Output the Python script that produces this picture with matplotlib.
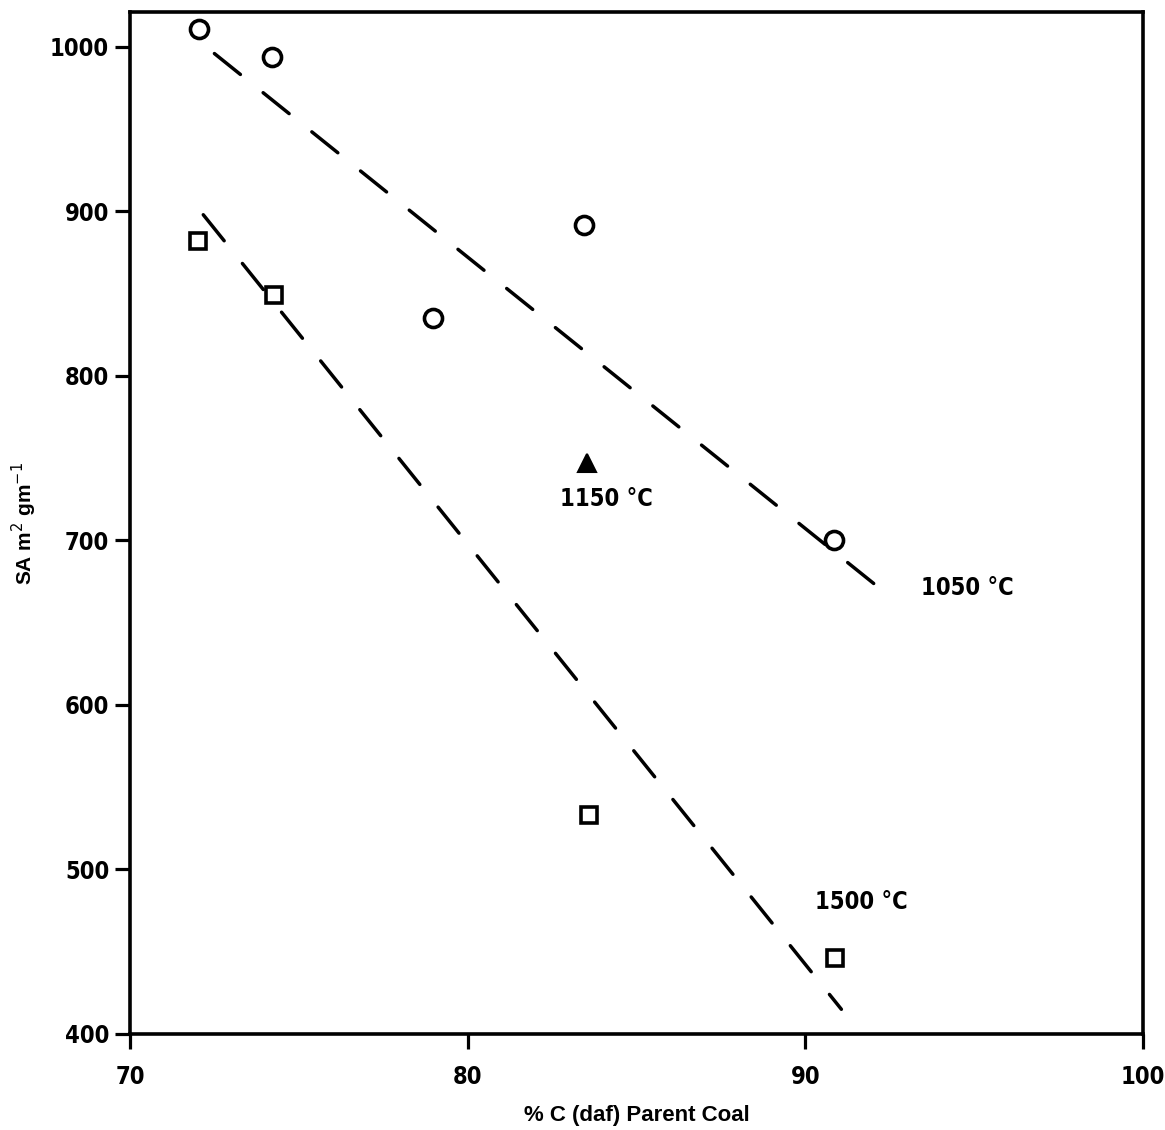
import matplotlib
matplotlib.use("Agg")
import matplotlib.pyplot as plt
from matplotlib import font_manager as fm

# ── Données ───────────────────────────────────────────────────────
c1050_x = [72.05, 74.2, 78.96, 83.44, 90.86]
c1050_y = [1011, 994, 835, 892, 700]

c1500_x = [72.0, 74.27, 83.59, 90.89]
c1500_y = [882, 849, 533, 446]

c1150_x = [83.53]
c1150_y = [747]

# droites de tendance (tracées à la main, extrémités)
fit1050_x = [72.5, 92.2]
fit1050_y = [996, 671]
fit1500_x = [72.17, 91.07]
fit1500_y = [898, 415]

x_ticks = [70, 80, 90, 100]
y_ticks = [400, 500, 600, 700, 800, 900, 1000]

# police étroite grasse si disponible
def _poids(w):
    return w if isinstance(w, int) else {"bold": 700, "semibold": 600, "demibold": 600,
                                         "heavy": 800, "black": 900}.get(w, 400)

etroites = [f for f in fm.fontManager.ttflist
            if ("Narrow" in f.name or "Condensed" in f.name or f.stretch in ("condensed", "semi-condensed"))
            and "Mono" not in f.name]
grasses = [f for f in etroites if _poids(f.weight) >= 600]
if grasses:
    NARROW, SZ = [grasses[0].name, "DejaVu Sans"], 17
elif etroites:
    NARROW, SZ = [etroites[0].name, "DejaVu Sans"], 18
else:
    NARROW, SZ = ["Liberation Sans", "DejaVu Sans"], 16
STRETCH = grasses[0].stretch if grasses else "normal"

plt.rcParams["lines.scale_dashes"] = False

fig = plt.figure(figsize=(11.65, 11.3), dpi=100)
ax = fig.add_axes([0.1116, 0.085, 0.8694, 0.904])

dash = (0, (24, 21))
ax.plot(fit1050_x, fit1050_y, color="black", lw=2.5, linestyle=dash, dash_capstyle="round")
ax.plot(fit1500_x, fit1500_y, color="black", lw=2.5, linestyle=dash, dash_capstyle="round")

ax.plot(c1050_x, c1050_y, "o", ms=13, mfc="white", mec="black", mew=2.6, ls="none")
ax.plot(c1500_x, c1500_y, "s", ms=12, mfc="white", mec="black", mew=2.6, ls="none")
ax.plot(c1150_x, c1150_y, "^", ms=13, mfc="black", mec="black", mew=1.5, ls="none")

for xx, yy, lbl in [(84.12, 725, "1150 °C"), (94.8, 671, "1050 °C"), (91.66, 480, "1500 °C")]:
    ax.text(xx, yy, lbl, fontsize=SZ, family=NARROW, fontweight="bold", fontstretch=STRETCH,
            ha="center", va="center")

ax.set_xlim(70, 100)
ax.set_ylim(400, 1021)
ax.set_xticks(x_ticks)
ax.set_yticks(y_ticks)
ax.set_xticklabels([str(v) for v in x_ticks], family=NARROW, fontsize=SZ, fontweight="bold",
                   fontstretch=STRETCH)
ax.set_yticklabels([str(v) for v in y_ticks], family=NARROW, fontsize=SZ, fontweight="bold",
                   fontstretch=STRETCH)
ax.tick_params(axis="both", direction="out", length=11, width=2.3, color="black")
ax.tick_params(axis="x", pad=11)
ax.tick_params(axis="y", pad=4)

for sp in ax.spines.values():
    sp.set_linewidth(2.6)

ax.set_xlabel("% C (daf) Parent Coal", family=["Liberation Sans", "DejaVu Sans"],
              fontsize=16, fontweight="bold", labelpad=12)
ax.set_ylabel(r"SA m$^{2}$ gm$^{-1}$", family=["Liberation Sans", "DejaVu Sans"],
              fontsize=15, fontweight="bold")
ax.yaxis.set_label_coords(-0.09, 0.5)

fig.savefig("out.png", dpi=100, facecolor="white")
